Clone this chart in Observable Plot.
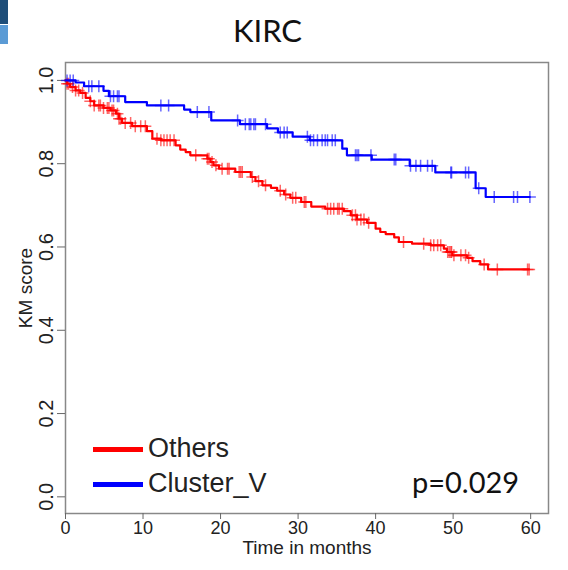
<!DOCTYPE html>
<html>
<head>
<meta charset="utf-8">
<script src="https://cdn.jsdelivr.net/npm/d3@7"></script>
<script src="https://cdn.jsdelivr.net/npm/@observablehq/plot@0.6"></script>
<style>
  html, body { margin: 0; padding: 0; background: #fff; }
  #wrap { position: relative; width: 568px; height: 570px; overflow: hidden; }
  #wrap svg { position: absolute; left: 0; top: 0; }
  .leg { position: absolute; font-family: "Liberation Sans", Arial, sans-serif; font-size: 27px; color: #222; line-height: 1; }
  .legline { position: absolute; height: 5px; }
</style>
</head>
<body>
<div id="wrap">
  <div style="position:absolute;left:0;top:0;width:8px;height:24px;background:#1f4e79;"></div>
  <div style="position:absolute;left:0;top:25px;width:8px;height:19px;background:#5b9bd5;"></div>
</div>
<script>
// ---- data ----
const groups = ["Others", "Cluster_V"];
const groupColors = ["#ff0000", "#0000ff"];

const othersTimes = [0,0.2,0.6,1.3,1.9,2.6,3.2,3.7,4.9,5.8,6.5,6.9,7.3,8.6,10.5,11.2,12.3,14.2,14.8,15.5,16.1,18.3,18.7,19.1,19.8,21.9,23.9,24.5,25.4,26.5,27.3,28.2,29.0,30.4,31.7,33.5,35.9,36.8,37.6,38.9,40.0,40.6,41.3,42.4,43.0,44.7,47.1,48.8,49.2,49.9,51.8,52.5,53.5,54.5];
const othersSurv = [1.0,0.992,0.984,0.976,0.970,0.958,0.950,0.940,0.934,0.928,0.920,0.908,0.898,0.890,0.878,0.860,0.856,0.844,0.834,0.828,0.820,0.812,0.804,0.796,0.788,0.780,0.768,0.758,0.748,0.742,0.735,0.726,0.718,0.708,0.697,0.692,0.686,0.676,0.666,0.658,0.644,0.636,0.631,0.623,0.612,0.608,0.604,0.596,0.588,0.580,0.574,0.566,0.558,0.546];
const othersCensor = [0.2,0.4,0.9,1.3,1.7,2.2,3.2,3.7,4.3,4.5,4.9,5.4,5.6,6.0,6.2,6.7,6.9,7.1,7.7,8.4,9.0,9.7,10.3,11.8,12.3,12.7,13.1,13.5,14.0,16.8,18.3,18.5,18.9,19.4,20.2,20.9,21.1,22.4,22.6,22.8,24.1,24.9,25.8,27.7,28.4,29.3,29.7,30.8,31.0,33.8,34.2,34.6,35.1,35.3,35.7,37.0,37.4,37.6,38.1,38.5,39.1,43.6,46.2,47.1,47.5,48.0,48.4,49.3,49.5,49.7,49.8,50.1,51.0,51.6,52.0,54.0,55.7,59.6,59.8];

const clusterTimes = [0,1.3,2.4,4.9,5.6,7.7,10.5,15.3,16.1,18.8,22.5,26.0,27.4,29.3,31.5,35.7,36.3,39.5,44.4,47.7,52.9,54.2];
const clusterSurv = [1.0,0.995,0.986,0.975,0.962,0.948,0.940,0.930,0.924,0.904,0.895,0.885,0.875,0.865,0.856,0.836,0.820,0.810,0.795,0.779,0.741,0.720];
const clusterCensor = [0.2,0.6,1.0,3.0,3.4,4.3,5.8,6.2,6.7,6.9,12.3,13.3,17.0,18.5,22.2,23.2,23.7,23.9,24.3,24.5,25.8,27.7,28.2,28.6,31.2,31.6,32.0,32.5,33.1,33.5,33.8,34.4,34.8,37.4,37.6,37.8,39.4,42.4,42.6,44.5,45.2,45.8,46.7,47.3,49.7,49.8,51.6,52.0,53.3,55.3,57.8,58.3,59.9];

const xTicks = [0,10,20,30,40,50,60];
const yTicks = [0,0.2,0.4,0.6,0.8,1.0];
const title = "KIRC";
const pText = "p=0.029";
const xLabel = "Time in months";
const yLabel = "KM score";

// ---- build tables ----
function survAt(times, surv, t) {
  let s = surv[0];
  for (let i = 0; i < times.length; i++) if (times[i] <= t) s = surv[i];
  return s;
}
function curve(times, surv, censor, g) {
  const pts = times.map((t, i) => ({t, s: surv[i], g}));
  const tEnd = d3.max(censor);
  pts.push({t: tEnd, s: surv[surv.length - 1], g});
  return pts;
}
function marks(times, surv, censor, g) {
  return censor.map(t => ({t, s: survAt(times, surv, t), g}));
}
const lines = [
  curve(othersTimes, othersSurv, othersCensor, groups[0]),
  curve(clusterTimes, clusterSurv, clusterCensor, groups[1])
];
const cens = [
  marks(othersTimes, othersSurv, othersCensor, groups[0]),
  marks(clusterTimes, clusterSurv, clusterCensor, groups[1])
];

const plusSymbol = {
  draw(ctx, size) {
    const r = Math.sqrt(size / Math.PI);
    ctx.moveTo(0, -r); ctx.lineTo(0, r);
    ctx.moveTo(-r, 0); ctx.lineTo(r, 0);
  }
};
const fmt1 = d3.format(".1f");
const axisFont = "'Liberation Sans', Arial, sans-serif";

const chart = Plot.plot({
  width: 568,
  height: 570,
  marginLeft: 65,
  marginRight: 20,
  marginTop: 62,
  marginBottom: 57,
  style: {fontFamily: axisFont, fontSize: "19px", color: "#222", background: "transparent", overflow: "visible"},
  x: {domain: [0, 62.3]},
  y: {domain: [-0.04, 1.043]},
  marks: [
    Plot.frame({stroke: "#888", strokeWidth: 1.5}),
    Plot.axisX({ticks: xTicks, tickSize: 6, tickFormat: () => "", label: null, stroke: "#666"}),
    Plot.axisY({ticks: yTicks, tickSize: 8, tickFormat: () => "", label: null, stroke: "#666"}),
    Plot.text(xTicks, {x: d => d, frameAnchor: "bottom", dy: 8, lineAnchor: "top", textAnchor: "middle", text: d => String(d), fontSize: 18, fontFamily: axisFont, fill: "#222"}),
    Plot.text(yTicks, {y: d => d, frameAnchor: "left", dx: -19, rotate: -90, textAnchor: "middle", lineAnchor: "middle", text: d => fmt1(d), fontSize: 20, fontFamily: axisFont, fill: "#222"}),
    Plot.text([xLabel], {frameAnchor: "bottom", dy: 40, textAnchor: "middle", fontSize: 19, fontFamily: axisFont, fill: "#222"}),
    Plot.text([yLabel], {frameAnchor: "left", dx: -40, rotate: -90, textAnchor: "middle", fontSize: 19, fontFamily: axisFont, fill: "#222"}),
    Plot.text([title], {frameAnchor: "top-left", dx: 202, dy: -21, textAnchor: "middle", lineAnchor: "bottom", fontSize: 31, fontFamily: "Lato, 'Open Sans', sans-serif", fill: "#111"}),
    Plot.text([pText], {frameAnchor: "bottom-right", dx: -83, dy: -21, textAnchor: "middle", lineAnchor: "bottom", fontSize: 29, fontFamily: "Lato, 'Open Sans', sans-serif", fill: "#111"}),
    ...cens.map((d, i) => Plot.dot(d, {x: "t", y: "s", symbol: plusSymbol, r: 6, fill: "none", stroke: groupColors[i], strokeWidth: 1.5, strokeOpacity: 0.6})),
    ...lines.map((d, i) => Plot.line(d, {x: "t", y: "s", curve: "step-after", stroke: groupColors[i], strokeWidth: 2.2}))
  ]
});
const wrap = document.getElementById("wrap");
wrap.appendChild(chart);

// legend (inside plot area, bottom-left)
const legendY = [449, 484];
groups.forEach((g, i) => {
  const ln = document.createElement("div");
  ln.className = "legline";
  ln.style.left = "93px"; ln.style.width = "50px";
  ln.style.top = (legendY[i] - 2.5) + "px";
  ln.style.background = groupColors[i];
  wrap.appendChild(ln);
  const tx = document.createElement("div");
  tx.className = "leg";
  tx.textContent = g;
  tx.style.left = "148px";
  tx.style.top = (legendY[i] - 14) + "px";
  wrap.appendChild(tx);
});
</script>
</body>
</html>
